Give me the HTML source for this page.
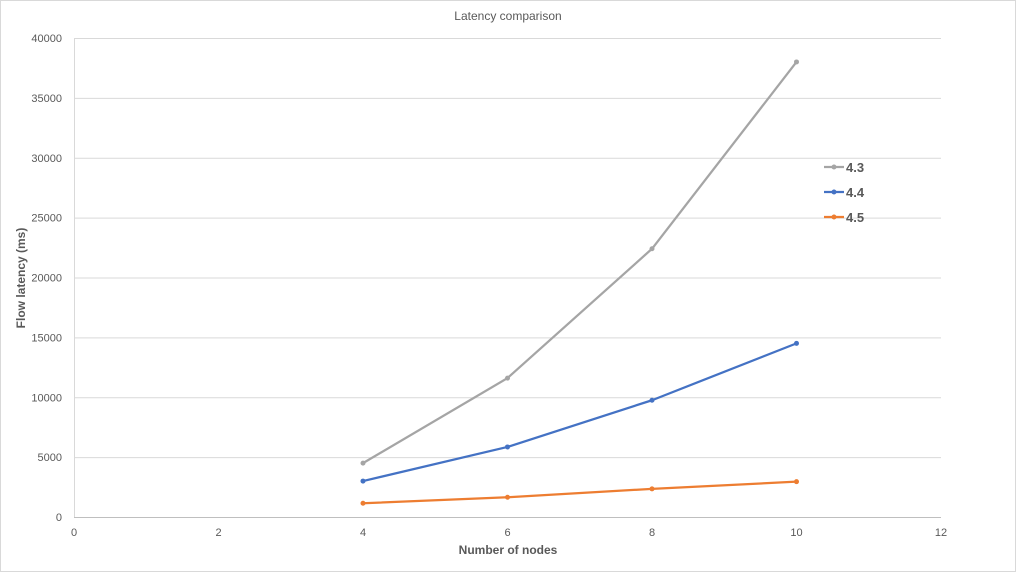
<!DOCTYPE html>
<html><head><meta charset="utf-8"><style>
html,body{margin:0;padding:0;background:#fff;}
svg{display:block;font-family:"Liberation Sans",sans-serif;}
</style></head><body>
<svg id="chart" width="1016" height="572">
<rect x="0.5" y="0.5" width="1015" height="571" fill="#fff" stroke="#d9d9d9"/>
<text x="508" y="20" text-anchor="middle" font-size="12" fill="#595959">Latency comparison</text>
<g id="grid"></g><g id="axes"></g><g id="series"></g>
<text x="508" y="554" text-anchor="middle" font-size="12" font-weight="bold" fill="#595959">Number of nodes</text>
<text transform="translate(25,278) rotate(-90)" text-anchor="middle" font-size="12" font-weight="bold" fill="#595959">Flow latency (ms)</text>
<g id="legend"></g>
</svg>
<script>
const xCats = [4, 6, 8, 10];
const s43 = [4500, 11600, 22400, 38000];
const s44 = [3000, 5850, 9750, 14500];
const s45 = [1150, 1650, 2350, 2950];
const seriesNames = ["4.3", "4.4", "4.5"];
const xTicks = [0, 2, 4, 6, 8, 10, 12];
const yTicks = [0, 5000, 10000, 15000, 20000, 25000, 30000, 35000, 40000];
const NS = "http://www.w3.org/2000/svg";
const X0 = 74, X1 = 941, Y0 = 517, Y1 = 38;
const sx = v => X0 + (v / 12) * (X1 - X0);
const sy = v => Y0 - (v / 40000) * (Y0 - Y1);
function mk(tag, attrs, parent) { const e = document.createElementNS(NS, tag); for (const k in attrs) e.setAttribute(k, attrs[k]); parent.appendChild(e); return e; }
const grid = document.getElementById("grid"), axes = document.getElementById("axes"), ser = document.getElementById("series"), leg = document.getElementById("legend");
yTicks.forEach(t => {
  const l = mk("line", {x1: X0, x2: X1, y1: sy(t) + 0.5, y2: sy(t) + 0.5, stroke: t === 0 ? "#bfbfbf" : "#d9d9d9"}, grid);
  
  
  const tx = mk("text", {x: 62, y: sy(t) + 4, "text-anchor": "end", "font-size": 11, fill: "#595959"}, axes);
  tx.textContent = t;
  
  
});
const va = mk("line", {x1: X0 + 0.5, x2: X0 + 0.5, y1: Y1, y2: Y0, stroke: "#d9d9d9"}, grid);


xTicks.forEach(t => {
  const tx = mk("text", {x: sx(t), y: 536, "text-anchor": "middle", "font-size": 11, fill: "#595959"}, axes);
  tx.textContent = t;
  
  
});
const all = [s43, s44, s45], colors = ["#a5a5a5", "#4472c4", "#ed7d31"];
all.forEach((s, i) => {
  const pts = s.map((v, j) => sx(xCats[j]) + "," + sy(v)).join(" ");
  const pl = mk("polyline", {points: pts, fill: "none", stroke: colors[i], "stroke-width": 2.25, "stroke-linejoin": "round"}, ser);
  
  
  s.forEach((v, j) => {
    const c = mk("circle", {cx: sx(xCats[j]), cy: sy(v), r: 2.5, fill: colors[i]}, ser);
    
    
  });
  const ly = 167 + i * 25;
  const g = mk("g", {}, leg);
  
  
  mk("line", {x1: 824, x2: 844, y1: ly, y2: ly, stroke: colors[i], "stroke-width": 2.25}, g);
  mk("circle", {cx: 834, cy: ly, r: 2.5, fill: colors[i]}, g);
  const t = mk("text", {x: 846, y: ly + 5, "font-size": 13, "font-weight": "bold", fill: "#595959"}, g);
  t.textContent = seriesNames[i];
});
</script>
</body></html>
